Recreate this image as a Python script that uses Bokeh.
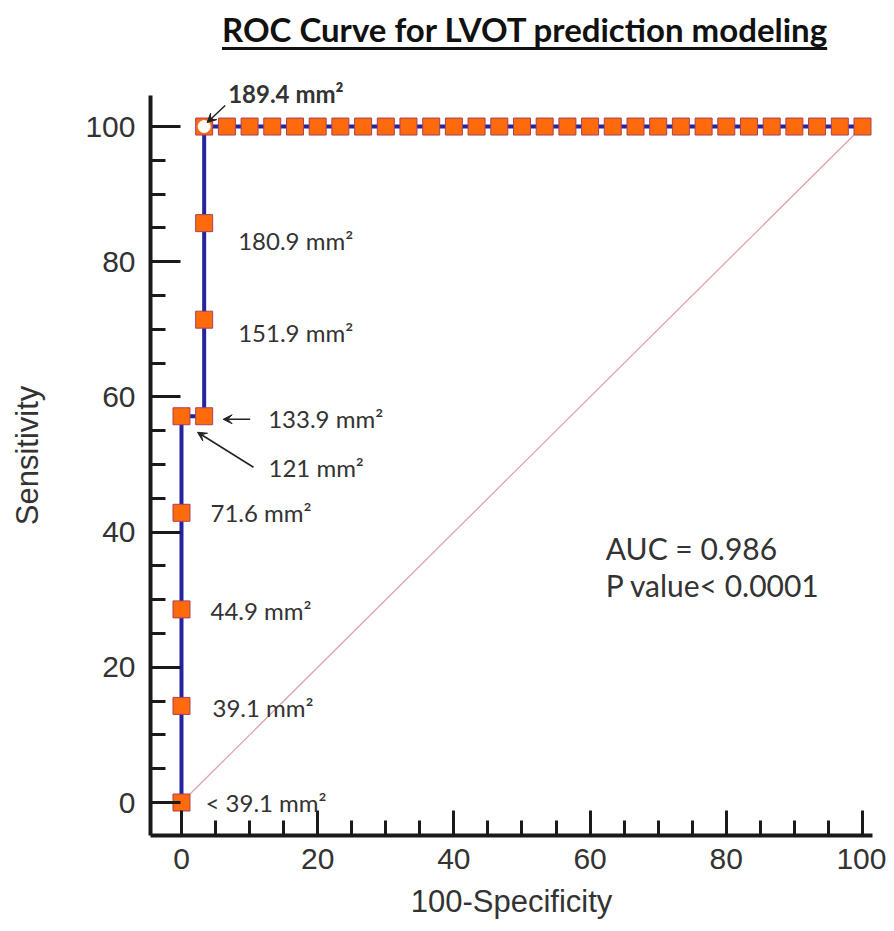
from bokeh.plotting import figure
from bokeh.models import Div, Label, Arrow, VeeHead, SingleIntervalTicker, Range1d, ColumnDataSource
from bokeh.layouts import column
from bokeh.embed import file_html
from bokeh.resources import INLINE

# ---------------- data ----------------
title_text = "ROC Curve for LVOT prediction modeling"
x_label = "100-Specificity"
y_label = "Sensitivity"

fpr = [0, 0, 0, 0, 0,
       3.33, 3.33, 3.33, 3.33,
       6.67, 10, 13.33, 16.67, 20, 23.33, 26.67, 30, 33.33, 36.67,
       40, 43.33, 46.67, 50, 53.33, 56.67, 60, 63.33, 66.67, 70,
       73.33, 76.67, 80, 83.33, 86.67, 90, 93.33, 96.67, 100]
tpr = [0, 14.29, 28.57, 42.86, 57.14,
       57.14, 71.43, 85.71, 100,
       100, 100, 100, 100, 100, 100, 100, 100, 100, 100,
       100, 100, 100, 100, 100, 100, 100, 100, 100, 100,
       100, 100, 100, 100, 100, 100, 100, 100, 100]
cutoffs = ["< 39.1", "39.1", "44.9", "71.6", "121", "133.9", "151.9", "180.9", "189.4"]
optimal_index = 8
diag_x = [0, 100]
diag_y = [0, 100]
auc_text = "AUC = 0.986"
p_text = "P value< 0.0001"

# ---------------- layout ----------------
X0, X1 = -4.55, 101.47
Y0, Y1 = -4.88, 107.55
Y_AXIS_TOP = 104.6
FW, FH = 722, 760
sx = (X1 - X0) / FW
sy = (Y1 - Y0) / FH

title = Div(
    text=('<div style="padding-left:222px;padding-top:6px;font-family:Lato;font-size:33px;'
          'font-weight:bold;color:#111;white-space:nowrap;">'
          '<span style="text-decoration:underline;text-decoration-thickness:3px;'
          'text-decoration-skip-ink:none;text-underline-offset:5px;">'
          + title_text + '</span></div>'),
    width=886, height=56, margin=(0, 0, 0, 0))

p = figure(width=886, height=875, x_range=Range1d(X0, X1), y_range=Range1d(Y0, Y1),
           output_backend="svg", toolbar_location=None,
           min_border_left=150, min_border_right=14, min_border_top=19, min_border_bottom=96,
           margin=(0, 0, 0, 0))
p.grid.visible = False
p.outline_line_color = None
p.background_fill_color = "white"

for ax in (p.xaxis[0], p.yaxis[0]):
    ax.ticker = SingleIntervalTicker(interval=20, num_minor_ticks=4)
    ax.axis_line_width = 4
    ax.axis_line_color = "#1a1a1a"
    ax.major_tick_line_width = 3
    ax.minor_tick_line_width = 3
    ax.major_tick_line_color = "#1a1a1a"
    ax.minor_tick_line_color = "#1a1a1a"
    ax.major_tick_out = 0
    ax.minor_tick_out = 0
    ax.major_label_text_font = "Liberation Sans"
    ax.major_label_text_font_size = "30px"
    ax.major_label_text_color = "#333333"
    ax.axis_label_text_font = "Liberation Sans"
    ax.axis_label_text_font_size = "31px"
    ax.axis_label_text_font_style = "normal"
    ax.axis_label_text_color = "#333333"

p.yaxis[0].bounds = (Y0, Y_AXIS_TOP)
p.xaxis[0].axis_label = x_label
p.yaxis[0].axis_label = y_label
p.xaxis[0].major_tick_in = 25
p.xaxis[0].minor_tick_in = 15
p.yaxis[0].major_tick_in = 30
p.yaxis[0].minor_tick_in = 15
p.xaxis[0].major_label_standoff = 13
p.xaxis[0].axis_label_standoff = 12
p.yaxis[0].major_label_standoff = 15
p.yaxis[0].axis_label_standoff = 37

src = ColumnDataSource(dict(x=fpr, y=tpr))

p.line(diag_x, diag_y, line_color="#e0a3ad", line_width=1.3)
p.line("x", "y", source=src, line_color="#2424a0", line_width=4)
p.scatter("x", "y", source=src, marker="square", size=17,
          fill_color="#ff6a0d", line_color="#a8405e", line_width=1)
p.scatter([fpr[optimal_index]], [tpr[optimal_index]], marker="circle", size=12,
          fill_color="white", line_color="white")

label_font = "Lato"
offsets = [(24, 0), (31, -2), (29, -1), (29, 0), (87, -51), (64, -2), (34, -13), (34, -17), (24, 33)]
for i, (c, (dx, dy)) in enumerate(zip(cutoffs, offsets)):
    p.add_layout(Label(x=fpr[i], y=tpr[i], x_offset=dx, y_offset=dy,
                       text=c + " mm\u00b2", text_font=label_font, text_font_size="24px",
                       text_color="#333333", text_baseline="middle", text_align="left",
                       text_font_style="bold" if i == optimal_index else "normal"))

# arrows (pixel offsets from the related points)
arrow_specs = [(optimal_index, (21, 21), (3, 4)),
               (5, (46, -3), (19, -3)),
               (4, (72, -51), (16, -16))]
for idx, (sdx, sdy), (edx, edy) in arrow_specs:
    p.add_layout(Arrow(end=VeeHead(size=9, fill_color="#222222", line_color="#222222"),
                       x_start=fpr[idx] + sdx * sx, y_start=tpr[idx] + sdy * sy,
                       x_end=fpr[idx] + edx * sx, y_end=tpr[idx] + edy * sy,
                       line_color="#222222", line_width=1.5))

p.add_layout(Label(x=62.3, y=37.6, text=auc_text, text_font=label_font, text_font_size="30px",
                   text_color="#333333", text_baseline="middle"))
p.add_layout(Label(x=62.3, y=32.2, text=p_text, text_font=label_font, text_font_size="30px",
                   text_color="#333333", text_baseline="middle"))

layout = column(title, p, spacing=0)
open("out.html", "w").write(file_html(layout, INLINE))
